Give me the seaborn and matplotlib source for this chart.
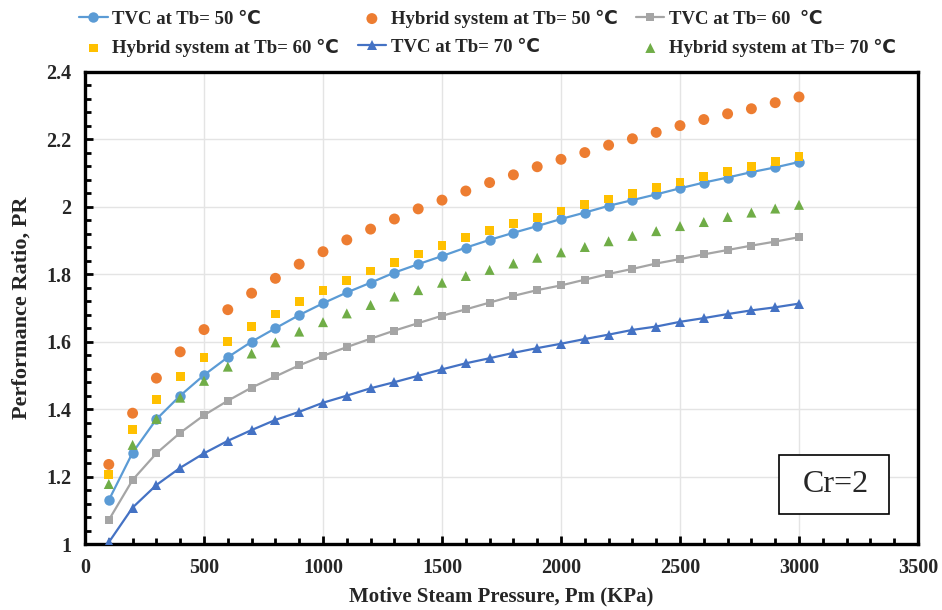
import matplotlib
matplotlib.use("Agg")
import matplotlib.pyplot as plt
import seaborn as sns
import numpy as np
from matplotlib.ticker import MultipleLocator, FuncFormatter
from matplotlib.patches import Rectangle

# ---------------- data ----------------
pressure = [100, 200, 300, 400, 500, 600, 700, 800, 900, 1000,
            1100, 1200, 1300, 1400, 1500, 1600, 1700, 1800, 1900, 2000,
            2100, 2200, 2300, 2400, 2500, 2600, 2700, 2800, 2900, 3000]

tvc_50 = [1.130, 1.271, 1.370, 1.440, 1.501, 1.554, 1.600, 1.640, 1.679, 1.714,
          1.746, 1.775, 1.805, 1.830, 1.854, 1.879, 1.902, 1.923, 1.943, 1.964,
          1.983, 2.003, 2.020, 2.037, 2.055, 2.072, 2.087, 2.103, 2.117, 2.133]
hyb_50 = [1.236, 1.388, 1.492, 1.570, 1.636, 1.695, 1.744, 1.788, 1.830, 1.867,
          1.902, 1.934, 1.964, 1.994, 2.020, 2.047, 2.072, 2.095, 2.119, 2.141,
          2.161, 2.183, 2.202, 2.221, 2.241, 2.259, 2.276, 2.291, 2.309, 2.326]
tvc_60 = [1.071, 1.190, 1.269, 1.330, 1.382, 1.425, 1.464, 1.497, 1.530, 1.558,
          1.584, 1.609, 1.633, 1.655, 1.677, 1.696, 1.716, 1.736, 1.753, 1.767,
          1.784, 1.801, 1.816, 1.832, 1.845, 1.859, 1.872, 1.885, 1.897, 1.910]
hyb_60 = [1.207, 1.339, 1.429, 1.496, 1.554, 1.601, 1.645, 1.682, 1.719, 1.751,
          1.781, 1.810, 1.836, 1.860, 1.885, 1.909, 1.929, 1.950, 1.969, 1.988,
          2.007, 2.023, 2.040, 2.057, 2.074, 2.090, 2.104, 2.119, 2.134, 2.149]
tvc_70 = [1.005, 1.108, 1.175, 1.226, 1.269, 1.306, 1.338, 1.368, 1.392, 1.419,
          1.440, 1.462, 1.480, 1.499, 1.518, 1.536, 1.551, 1.567, 1.581, 1.594,
          1.608, 1.621, 1.635, 1.645, 1.659, 1.670, 1.682, 1.693, 1.702, 1.713]
hyb_70 = [1.178, 1.294, 1.371, 1.434, 1.484, 1.526, 1.565, 1.598, 1.630, 1.658,
          1.684, 1.709, 1.734, 1.753, 1.775, 1.795, 1.813, 1.832, 1.849, 1.865,
          1.881, 1.898, 1.914, 1.928, 1.943, 1.955, 1.970, 1.983, 1.995, 2.006]

labels = ["TVC at Tb= 50 \u2103", "Hybrid system at Tb= 50 \u2103", "TVC at Tb= 60  \u2103",
          "Hybrid system at Tb= 60 \u2103", "TVC at Tb= 70 \u2103", "Hybrid system at Tb= 70 \u2103"]
x_label = "Motive Steam Pressure, Pm (KPa)"
y_label = "Performance Ratio, PR"
note = "Cr=2"

# ---------------- style ----------------
sns.set_theme(style="white")
plt.rcParams["font.family"] = ["Liberation Serif", "DejaVu Sans"]

fig = plt.figure(figsize=(9.42, 6.10), dpi=100)
ax = fig.add_axes([85/942, 1-544/610, 833/942, 472/610])

c_blue = "#5B9BD5"
c_orange = "#ED7D31"
c_gray = "#A5A5A5"
c_yellow = "#FFC000"
c_dblue = "#4472C4"
c_green = "#70AD47"

sns.lineplot(x=pressure, y=tvc_50, ax=ax, color=c_blue, marker="o", markersize=7.5,
             markeredgewidth=0, linewidth=1.6, label=labels[0], zorder=3)
sns.scatterplot(x=pressure, y=hyb_50, ax=ax, color=c_orange, marker="o", s=62,
                edgecolor="none", label=labels[1], zorder=3)
sns.lineplot(x=pressure, y=tvc_60, ax=ax, color=c_gray, marker="s", markersize=6,
             markeredgewidth=0, linewidth=1.6, label=labels[2], zorder=3)
sns.scatterplot(x=pressure, y=hyb_60, ax=ax, color=c_yellow, marker="s", s=40,
                edgecolor="none", label=labels[3], zorder=3)
sns.lineplot(x=pressure, y=tvc_70, ax=ax, color=c_dblue, marker="^", markersize=7,
             markeredgewidth=0, linewidth=1.6, label=labels[4], zorder=3)
sns.scatterplot(x=pressure, y=hyb_70, ax=ax, color=c_green, marker="^", s=52,
                edgecolor="none", label=labels[5], zorder=3)

ax.set_xlim(0, 3500)
ax.set_ylim(1, 2.4)
ax.xaxis.set_major_locator(MultipleLocator(500))
ax.xaxis.set_minor_locator(MultipleLocator(100))
ax.yaxis.set_major_locator(MultipleLocator(0.2))
ax.yaxis.set_minor_locator(MultipleLocator(0.04))
ax.yaxis.set_major_formatter(FuncFormatter(lambda v, p: f"{v:g}"))
ax.grid(True, which="major", color="#E4E4E4", linewidth=1.0)
ax.set_axisbelow(True)

for s in ax.spines.values():
    s.set_color("black")
    s.set_linewidth(2.4)
ax.tick_params(which="major", direction="in", length=6, width=2, color="black",
               labelsize=14.5, pad=10)
ax.tick_params(which="minor", direction="in", length=4, width=2, color="black")
ax.tick_params(axis="y", which="both", left=True)
ax.tick_params(axis="x", which="both", bottom=True)
for t in ax.get_xticklabels() + ax.get_yticklabels():
    t.set_fontweight("bold")

ax.set_xlabel(x_label, fontsize=15, fontweight="bold", labelpad=6)
ax.set_ylabel(y_label, fontsize=16, fontweight="bold", labelpad=10)

# annotation box
ax.add_patch(Rectangle(((779-85)/833, (544-514)/472), 110/833, 59/472,
                       transform=ax.transAxes, fill=True, facecolor="white",
                       edgecolor="black", linewidth=1.2, zorder=5))
ax.text((836-85)/833, (544-484)/472, note, transform=ax.transAxes, fontsize=23,
        ha="center", va="center", zorder=6, family=["Liberation Serif"])

# legend (row-major order as in reference)
handles, labs = ax.get_legend_handles_labels()
ax.get_legend().remove()
order = [0, 3, 1, 4, 2, 5]
fig.legend([handles[i] for i in order], [labs[i] for i in order],
           loc="upper left", bbox_to_anchor=(70/942, 1.0), ncol=3,
           frameon=False, prop={"family": ["Liberation Serif", "DejaVu Sans"],
                                "weight": "bold", "size": 13.5},
           handlelength=1.5, handletextpad=0.25, columnspacing=1.0,
           labelspacing=0.6, borderpad=0.0)

fig.savefig("out.png", dpi=100)
